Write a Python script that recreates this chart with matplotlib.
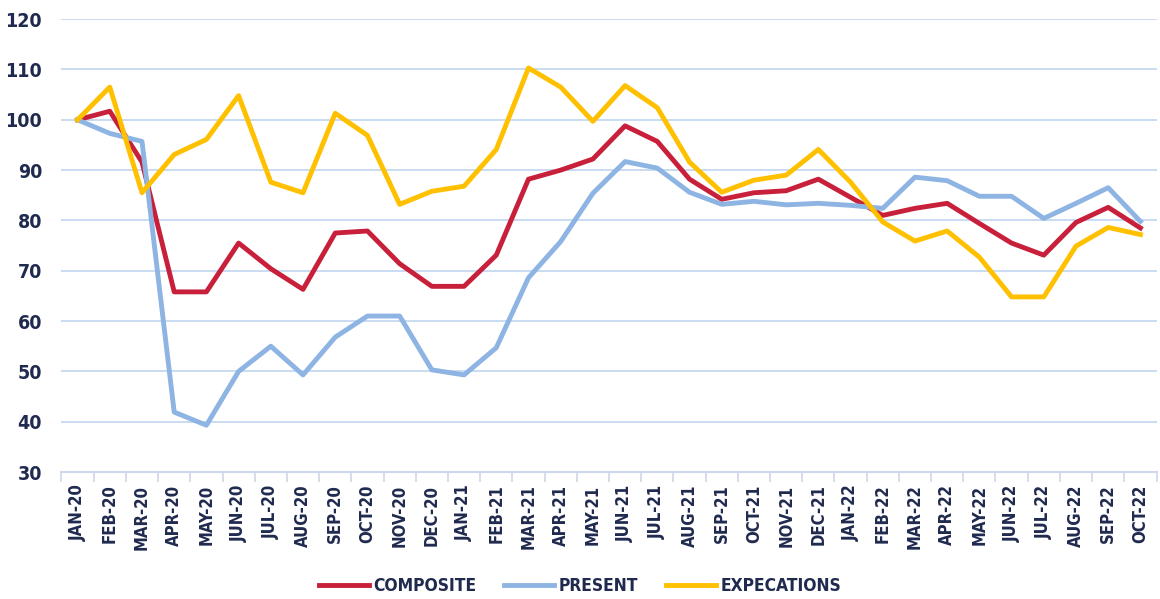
import numpy as np
import matplotlib.pyplot as plt

months = ["JAN-20", "FEB-20", "MAR-20", "APR-20", "MAY-20", "JUN-20", "JUL-20", "AUG-20",
          "SEP-20", "OCT-20", "NOV-20", "DEC-20", "JAN-21", "FEB-21", "MAR-21", "APR-21",
          "MAY-21", "JUN-21", "JUL-21", "AUG-21", "SEP-21", "OCT-21", "NOV-21", "DEC-21",
          "JAN-22", "FEB-22", "MAR-22", "APR-22", "MAY-22", "JUN-22", "JUL-22", "AUG-22",
          "SEP-22", "OCT-22"]

composite = [100, 101.7, 91.6, 65.8, 65.8, 75.5, 70.4, 66.3, 77.5, 77.9, 71.4, 66.9,
             66.9, 73.1, 88.2, 90.0, 92.2, 98.8, 95.7, 88.2, 84.2, 85.5, 85.9, 88.2,
             84.6, 81.0, 82.4, 83.4, 79.4, 75.5, 73.1, 79.6, 82.6, 78.5]
present = [100, 97.3, 95.7, 41.9, 39.3, 50.0, 55.0, 49.3, 56.8, 61.0, 61.0, 50.3,
           49.3, 54.7, 68.6, 75.8, 85.4, 91.7, 90.4, 85.6, 83.2, 83.8, 83.1, 83.4,
           83.0, 82.4, 88.6, 87.9, 84.8, 84.8, 80.4, 83.4, 86.5, 79.8]
expectations = [100, 106.5, 85.5, 93.1, 96.1, 104.8, 87.6, 85.5, 101.3, 96.9, 83.2, 85.8,
                86.8, 94.1, 110.3, 106.5, 99.7, 106.8, 102.4, 91.6, 85.6, 88.0, 89.0, 94.1,
                87.6, 79.7, 75.9, 77.9, 72.7, 64.8, 64.8, 74.9, 78.6, 77.2]

navy = "#1F2A4E"
grid_col = "#C5D9F1"

plt.rcParams['font.family'] = ['DejaVu Sans']
plt.rcParams['font.stretch'] = 'condensed'
plt.rcParams['font.weight'] = 'bold'

fig = plt.figure(figsize=(11.6, 5.99), dpi=100)
ax = fig.add_axes([0.053, 0.212, 0.944, 0.756])

x = np.arange(len(months))
ax.plot(x, composite, color="#C8203A", lw=3.5, label="COMPOSITE", zorder=3)
ax.plot(x, present, color="#8DB4E2", lw=3.5, label="PRESENT", zorder=3)
ax.plot(x, expectations, color="#FFC000", lw=3.5, label="EXPECATIONS", zorder=4)

ax.set_ylim(30, 120)
ax.set_yticks(np.arange(30, 121, 10))
ax.set_xlim(-0.5, len(months) - 0.5)
ax.set_xticks(x)
ax.set_xticklabels(months, rotation=90, fontsize=12, color=navy,
                   fontweight='bold', fontstretch='condensed')
ax.set_xticks(np.arange(-0.5, len(months), 1), minor=True)
ax.tick_params(axis='x', which='major', length=0, pad=9)
ax.tick_params(axis='x', which='minor', length=7, color="#D0D6EC", width=1.2)
ax.tick_params(axis='y', length=0, labelsize=14, labelcolor=navy, pad=14)
for lab in ax.get_yticklabels():
    lab.set_fontweight('bold')
    lab.set_fontstretch('condensed')

ax.yaxis.grid(True, color=grid_col, lw=1.3)
ax.set_axisbelow(True)
for s in ["top", "right", "left"]:
    ax.spines[s].set_visible(False)
ax.spines["bottom"].set_color("#D0D6EC")
ax.spines["bottom"].set_linewidth(1.5)

fig.legend(loc="lower center", bbox_to_anchor=(0.5, -0.02), ncol=3, frameon=False,
           prop={'size': 12.5, 'weight': 'bold', 'stretch': 'condensed'}, labelcolor=navy,
           handlelength=2.9, columnspacing=1.6, handletextpad=0.25)

fig.savefig("out.png", dpi=100)
